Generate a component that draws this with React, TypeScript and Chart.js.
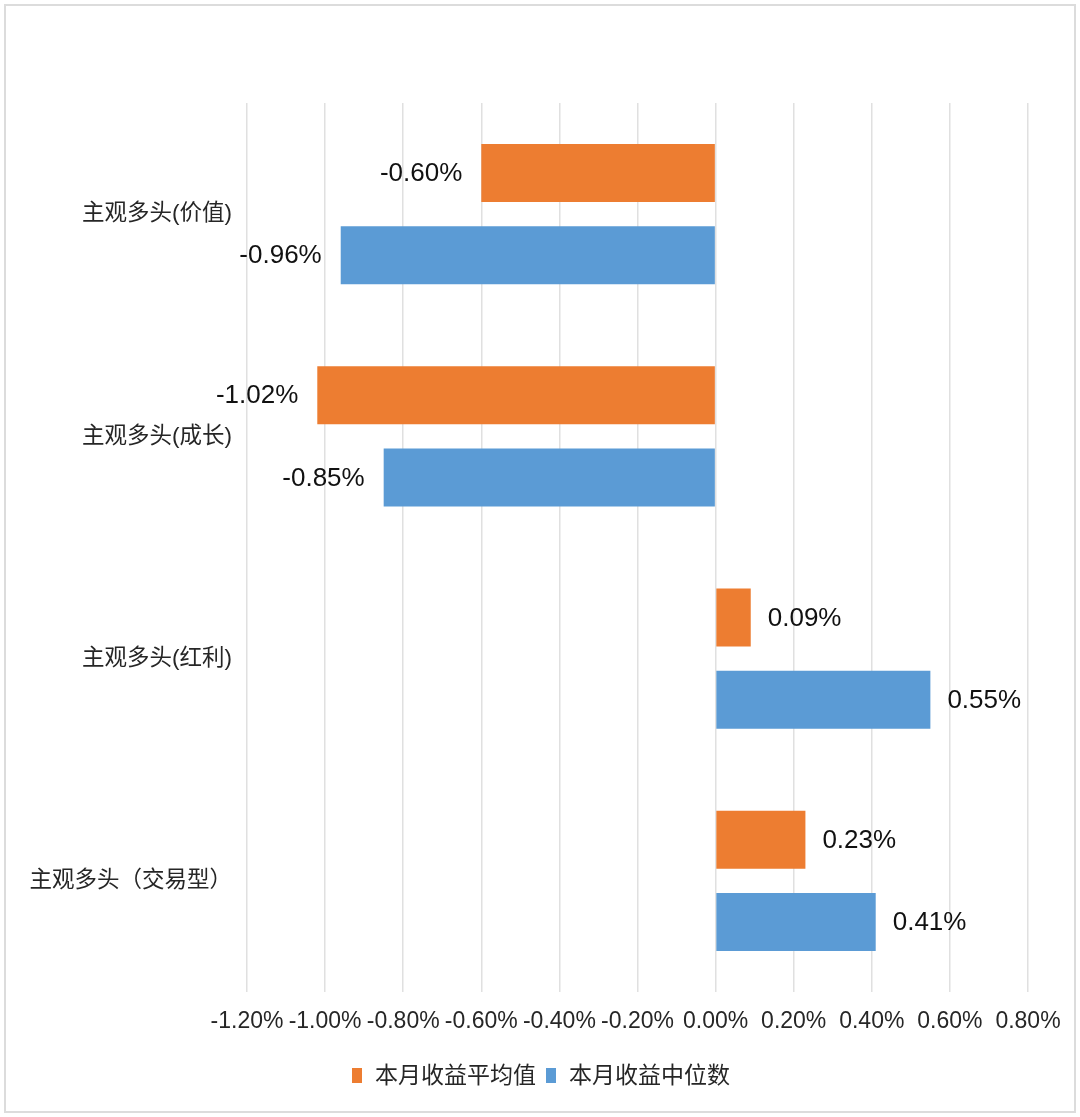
import React, { useEffect, useRef } from "react";
import { Chart, registerables } from "chart.js";

Chart.register(...registerables);

const categories = ["主观多头(价值)", "主观多头(成长)", "主观多头(红利)", "主观多头（交易型）"];
const seriesNames = ["本月收益平均值", "本月收益中位数"];
const meanValues = [-0.6, -1.02, 0.09, 0.23];
const medianValues = [-0.96, -0.85, 0.55, 0.41];
const seriesColors = ["#ED7D31", "#5B9BD5"];
const axisMin = -1.2;
const axisMax = 0.8;
const axisStep = 0.2;

const FONT = '"Liberation Sans", "Noto Sans CJK SC", Arial, sans-serif';

const dataLabelPlugin = {
  id: "dataLabels",
  afterDatasetsDraw(chart: any) {
    const ctx = chart.ctx;
    ctx.save();
    ctx.font = `26px ${FONT}`;
    ctx.fillStyle = "#111111";
    ctx.textBaseline = "middle";
    chart.data.datasets.forEach((ds: any, di: number) => {
      const meta = chart.getDatasetMeta(di);
      meta.data.forEach((bar: any, i: number) => {
        const v = ds.data[i] as number;
        const label = v.toFixed(2) + "%";
        if (v < 0) {
          ctx.textAlign = "right";
          ctx.fillText(label, bar.x - 19, bar.y + 1);
        } else {
          ctx.textAlign = "left";
          ctx.fillText(label, bar.x + 17, bar.y + 1);
        }
      });
    });
    ctx.restore();
  },
};

export default function App() {
  const ref = useRef<HTMLCanvasElement | null>(null);

  useEffect(() => {
    if (!ref.current) return;
    const chart = new Chart(ref.current, {
      type: "bar",
      data: {
        labels: categories,
        datasets: [
          {
            label: seriesNames[0],
            data: meanValues,
            backgroundColor: seriesColors[0],
            categoryPercentage: 0.739,
            barPercentage: 0.707,
          },
          {
            label: seriesNames[1],
            data: medianValues,
            backgroundColor: seriesColors[1],
            categoryPercentage: 0.739,
            barPercentage: 0.707,
          },
        ],
      },
      options: {
        indexAxis: "y",
        animation: false,
        responsive: false,
        maintainAspectRatio: false,
        layout: { padding: { top: 103, right: 52, bottom: 0, left: 0 } },
        scales: {
          x: {
            min: axisMin,
            max: axisMax,
            border: { display: false },
            grid: { color: "#e0e0e0", lineWidth: 1.5, drawTicks: false },
            ticks: {
              stepSize: axisStep,
              padding: 16,
              color: "#262626",
              font: { family: FONT, size: 23 },
              maxRotation: 0,
              autoSkip: false,
              callback: (v: any) => Number(v).toFixed(2) + "%",
            },
            afterFit: (axis: any) => {
              axis.height = 125;
            },
          },
          y: {
            border: { display: false },
            grid: { display: false, drawTicks: false },
            ticks: {
              padding: 15,
              color: "#262626",
              font: { family: FONT, size: 22.5 },
            },
            afterFit: (axis: any) => {
              axis.width = 247;
            },
          },
        },
        plugins: {
          legend: { display: false },
          tooltip: { enabled: false },
        },
      },
      plugins: [dataLabelPlugin],
    });
    return () => chart.destroy();
  }, []);

  const legendItem = (name: string, color: string, key: number) => (
    <div key={key} style={{ display: "flex", alignItems: "center", marginRight: key === 0 ? 10 : 0 }}>
      <div style={{ width: 10, height: 15, background: color, marginRight: 13 }} />
      <span style={{ font: `23px ${FONT}`, color: "#262626", lineHeight: "28px", whiteSpace: "nowrap" }}>{name}</span>
    </div>
  );

  return (
    <div style={{ position: "absolute", left: 0, top: 0, width: 1080, height: 1117, background: "#fff" }}>
      <div
        style={{
          position: "absolute",
          left: 4,
          top: 4,
          width: 1072,
          height: 1109,
          boxSizing: "border-box",
          border: "2px solid #dcdcdc",
        }}
      />
      <canvas ref={ref} width={1080} height={1117} style={{ position: "absolute", left: 0, top: 0 }} />
      <div
        style={{
          position: "absolute",
          left: 352,
          top: 1061,
          height: 28,
          display: "flex",
          alignItems: "center",
        }}
      >
        {seriesNames.map((n, i) => legendItem(n, seriesColors[i], i))}
      </div>
    </div>
  );
}
